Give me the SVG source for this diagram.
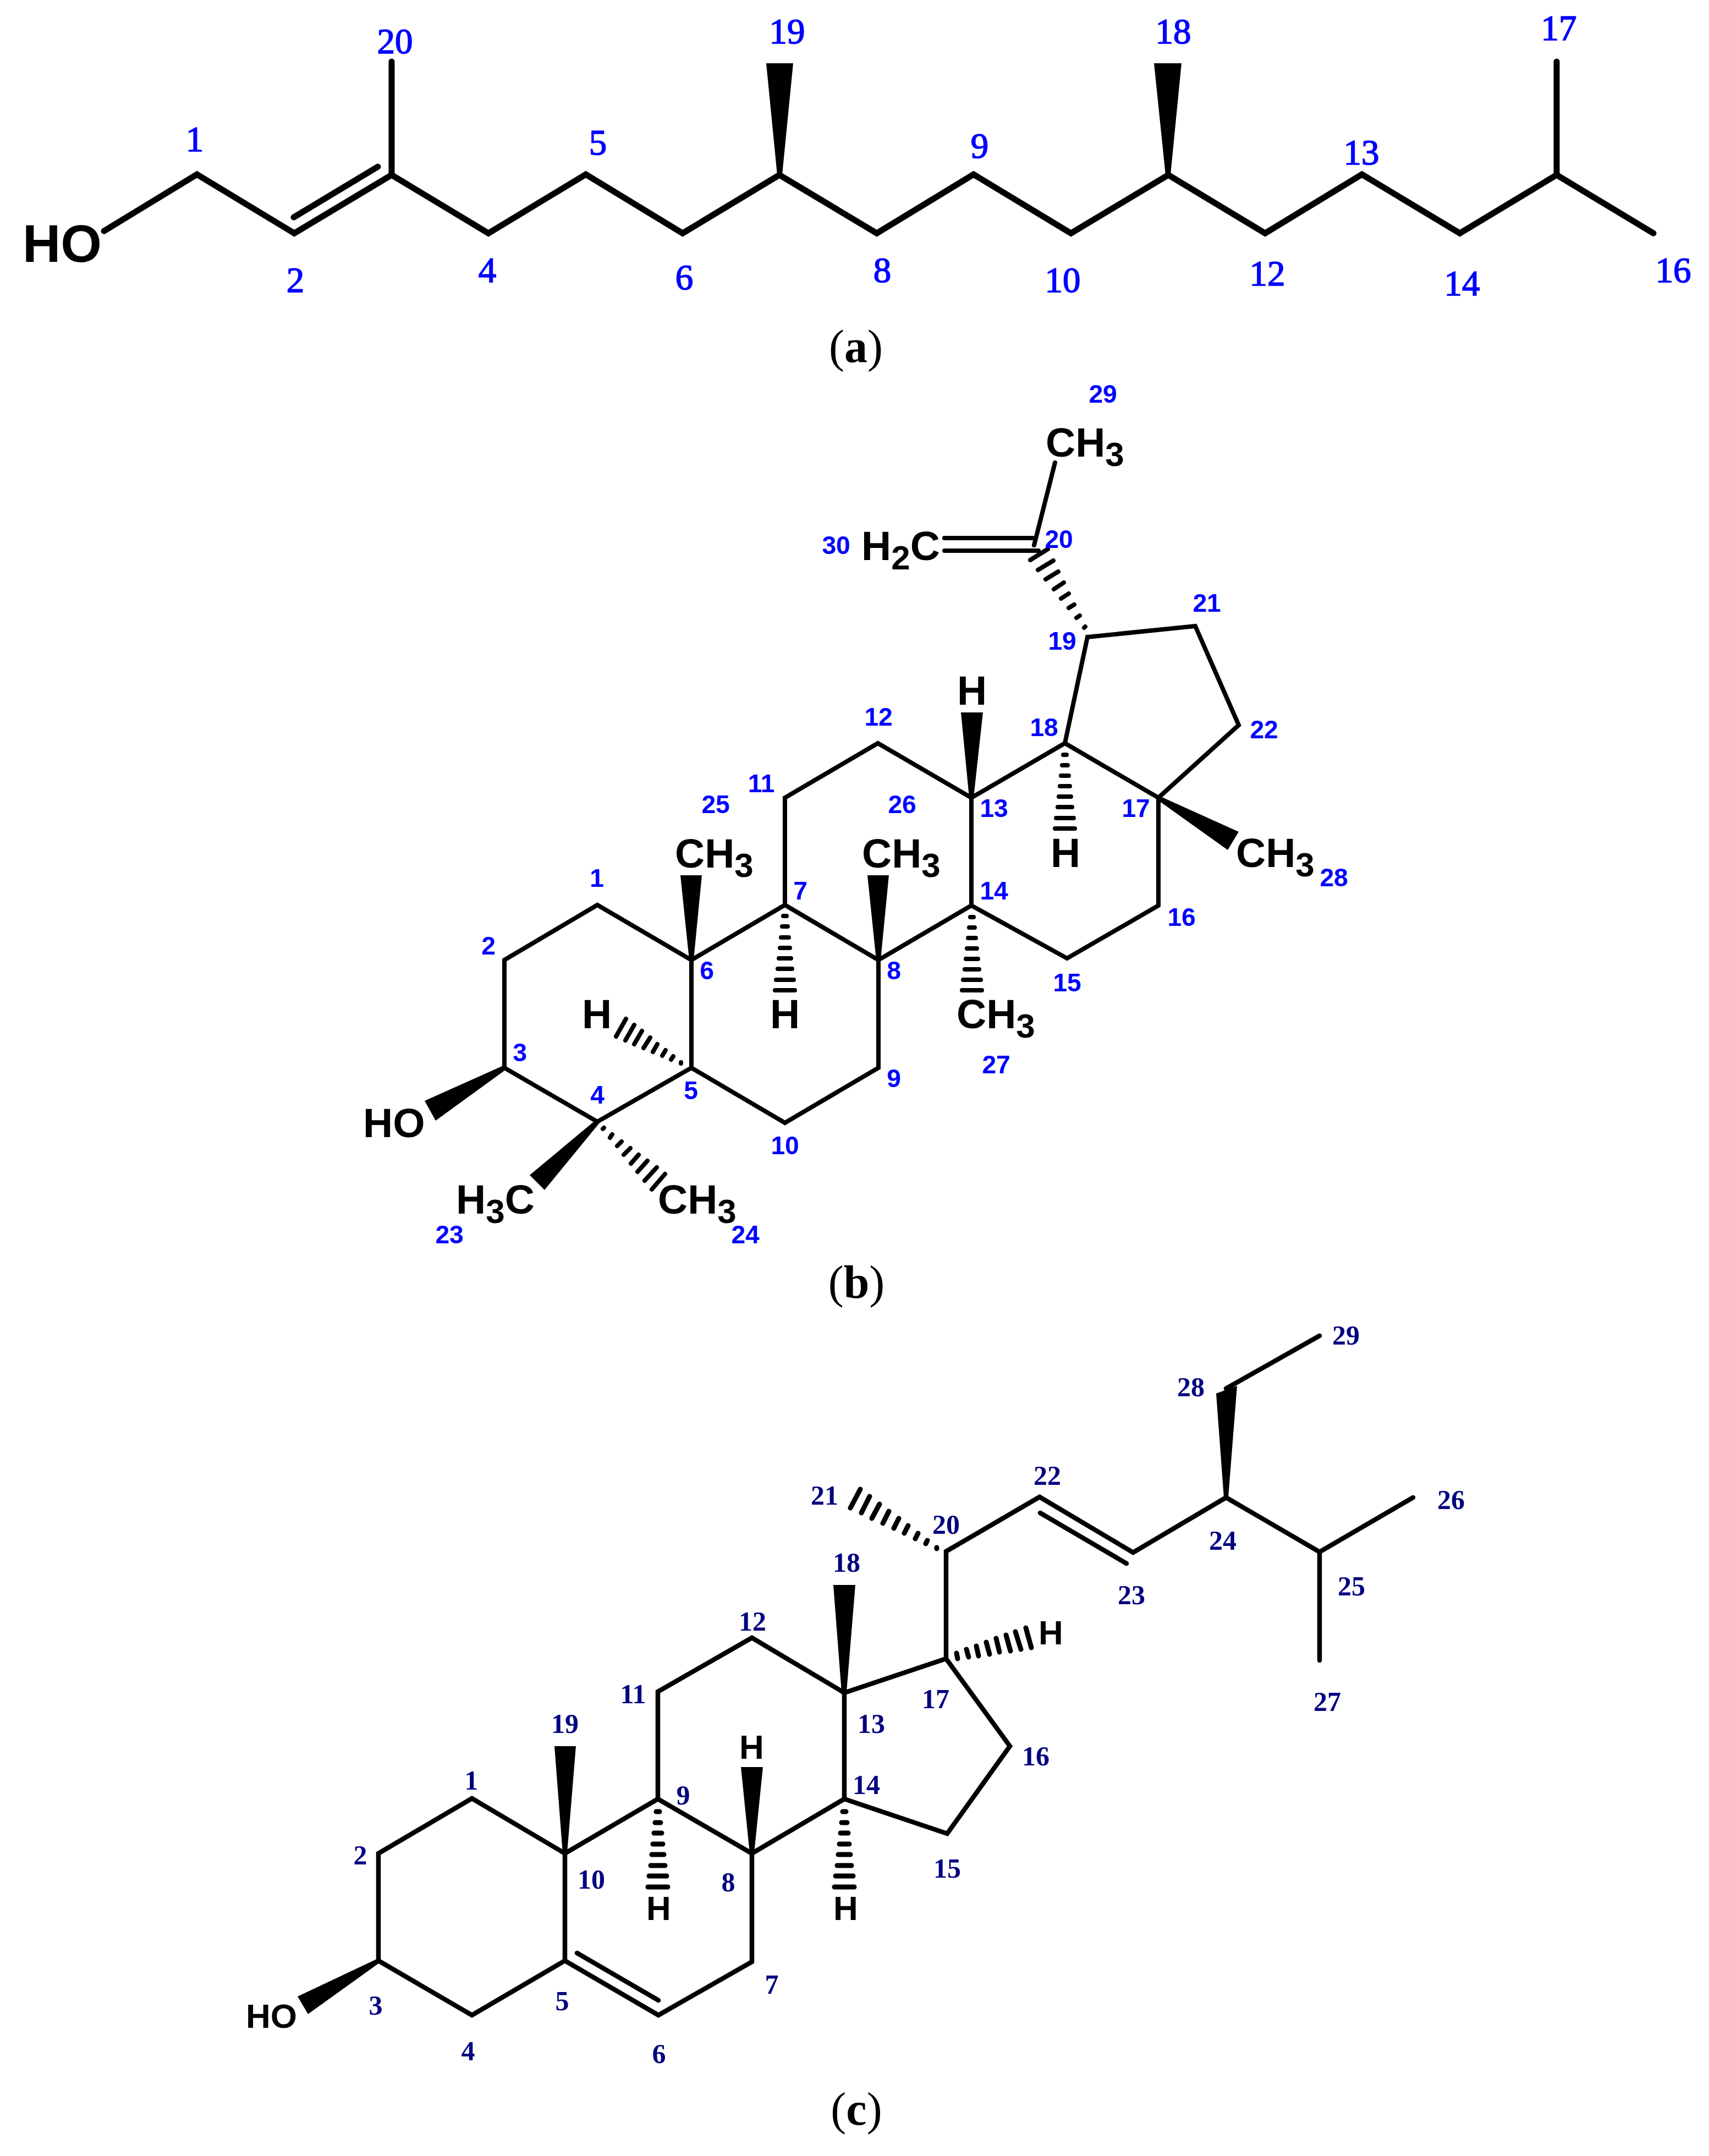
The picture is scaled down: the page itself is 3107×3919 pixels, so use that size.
<svg xmlns="http://www.w3.org/2000/svg" width="3107" height="3919" viewBox="0 0 3107 3919">
<style>
.bg{fill:#fff}
.bond{fill:none;stroke:#000;stroke-linecap:round;stroke-linejoin:miter}
.ba{stroke-width:11}
.bb{stroke-width:8}
.bc{stroke-width:8.500}
.hash{fill:none;stroke:#000;stroke-linecap:round}
.hb{stroke-width:8}
.hc{stroke-width:9}
.w{fill:#000;stroke:none}
.atom{font-family:"Liberation Sans",Arial,sans-serif;font-weight:bold;fill:#000}
.la{font-family:"Liberation Serif","Times New Roman",serif;font-size:65px;fill:#0000ff;stroke:#0000ff;stroke-width:1.600px;text-anchor:middle}
.lb{font-family:"Liberation Sans",Arial,sans-serif;font-size:46px;font-weight:bold;fill:#0000ff;text-anchor:middle}
.lc{font-family:"Liberation Serif","Times New Roman",serif;font-size:50px;font-weight:bold;fill:#000080;text-anchor:middle}
.cap{font-family:"Liberation Serif","Times New Roman",serif;font-size:84px;fill:#000;text-anchor:middle}
.cap tspan{font-weight:bold}
.a74{font-size:75px}
.a62{font-size:62px}
.s58{font-size:62px}
</style>
<rect class="bg" width="3107" height="3919"/>

<g id="molecule-a">
<g id="connectors-a">
<path class="bond ba" d="M189 420L358 317L535 424L712 318L888 424L1065 317L1241 424L1417 318L1594 424L1770 317L1947 424L2124 318L2300 424L2476 317L2654 424L2830 318L3006 424"/>
<path class="bond ba" d="M712 318V112M2830 318V112M534 395L687 303"/>
<polygon class="w" points="1393,115 1442,115 1422,318 1413,318"/>
<polygon class="w" points="2098,115 2148,115 2128,318 2119,318"/>
</g>
<text class="atom" x="41" y="476" font-size="96">HO</text>
<g id="labels-a">
<text class="la" x="354" y="275">1</text><text class="la" x="537" y="531">2</text><text class="la" x="718" y="97">20</text><text class="la" x="886" y="513">4</text><text class="la" x="1087" y="281">5</text><text class="la" x="1244" y="526">6</text><text class="la" x="1431" y="79">19</text><text class="la" x="1604" y="513">8</text><text class="la" x="1781" y="287">9</text><text class="la" x="2133" y="79">18</text><text class="la" x="1932" y="531">10</text><text class="la" x="2304" y="519">12</text><text class="la" x="2475" y="299">13</text><text class="la" x="2658" y="537">14</text><text class="la" x="2834" y="73">17</text><text class="la" x="3042" y="513">16</text>
</g>
<text class="cap" x="1556" y="658">(<tspan>a</tspan>)</text>
</g>

<g id="molecule-b">
<g id="connectors-b">
<path class="bond bb" d="M917 1745L1086 1645L1257 1745L1257 1941L1086 2039L917 1941Z"/>
<path class="bond bb" d="M1257 1745L1427 1645L1597 1745L1597 1941L1427 2041L1257 1941"/>
<path class="bond bb" d="M1427 1645V1450L1596 1351L1766 1450V1646L1597 1745"/>
<path class="bond bb" d="M1766 1646L1940 1742L2106 1646V1450L1936 1351L1766 1450"/>
<path class="bond bb" d="M2106 1450L2252 1318L2173 1138L1977 1158L1936 1351"/>
<path class="bond bb" d="M1918 841L1880 991M1717 978H1878M1717 1001H1888"/>
<polygon class="w" points="1747,1295 1787,1295 1770,1450 1762,1450"/>
<polygon class="w" points="1237,1591 1276,1591 1261,1745 1253,1745"/>
<polygon class="w" points="1577,1591 1616,1591 1601,1745 1593,1745"/>
<polygon class="w" points="2252,1512 2232,1545 2103,1453 2108,1447"/>
<polygon class="w" points="772,2001 792,2037 920,1944 915,1937"/>
<polygon class="w" points="963,2136 990,2163 1090,2041 1083,2036"/>
<path class="hash hb" d="M1933 1372h6M1931 1391h10M1929 1410h14M1927 1429h18M1925 1448h22M1923 1467h26M1920 1487h32M1918 1506h36"/>
<path class="hash hb" d="M1424 1665h6M1422 1684h10M1420 1704h14M1418 1723h18M1416 1742h22M1414 1761h26M1411 1781h32M1409 1800h36"/>
<path class="hash hb" d="M1764 1667h6M1762 1686h10M1760 1705h14M1758 1724h18M1756 1743h22M1754 1762h26M1751 1781h32M1749 1800h36"/>
<path class="hash hb" d="M1971 1141L1973 1139M1957 1123L1963 1119M1943 1105L1953 1099M1929 1088L1943 1079M1916 1071L1934 1059M1901 1053L1924 1039M1887 1036L1915 1019M1873 1018L1905 998"/>
<path class="hash hb" d="M1238 1933L1238 1931M1220 1926L1224 1920M1204 1919L1210 1909M1187 1912L1195 1898M1170 1905L1182 1886M1153 1898L1167 1874M1137 1891L1153 1863M1120 1884L1138 1852"/>
<path class="hash hb" d="M1096 2052L1098 2050M1109 2068L1113 2062M1122 2083L1130 2075M1134 2099L1146 2087M1147 2115L1161 2099M1159 2130L1177 2110M1172 2146L1194 2122M1185 2162L1209 2134"/>
</g>
<g id="atoms-b">
<text class="atom a74" x="1901" y="830">CH<tspan class="s58" dy="17">3</tspan></text>
<text class="atom a74" x="1566" y="1018">H<tspan class="s58" dy="17">2</tspan><tspan dy="-17">C</tspan></text>
<text class="atom a74" x="1740" y="1281">H</text>
<text class="atom a74" x="1910" y="1576">H</text>
<text class="atom a74" x="2247" y="1576">CH<tspan class="s58" dy="17">3</tspan></text>
<text class="atom a74" x="1227" y="1577">CH<tspan class="s58" dy="17">3</tspan></text>
<text class="atom a74" x="1567" y="1577">CH<tspan class="s58" dy="17">3</tspan></text>
<text class="atom a74" x="1400" y="1869">H</text>
<text class="atom a74" x="1739" y="1869">CH<tspan class="s58" dy="17">3</tspan></text>
<text class="atom a74" x="1058" y="1869">H</text>
<text class="atom a74" x="660" y="2067">HO</text>
<text class="atom a74" x="829" y="2206">H<tspan class="s58" dy="17">3</tspan><tspan dy="-17">C</tspan></text>
<text class="atom a74" x="1196" y="2206">CH<tspan class="s58" dy="17">3</tspan></text>
</g>
<g id="labels-b">
<text class="lb" x="2005" y="732">29</text><text class="lb" x="1520" y="1007">30</text><text class="lb" x="1925" y="996">20</text><text class="lb" x="2194" y="1112">21</text><text class="lb" x="1931" y="1181">19</text><text class="lb" x="1898" y="1338">18</text><text class="lb" x="1597" y="1319">12</text><text class="lb" x="2298" y="1342">22</text><text class="lb" x="1384" y="1440">11</text><text class="lb" x="1640" y="1478">26</text><text class="lb" x="1807" y="1485">13</text><text class="lb" x="2065" y="1485">17</text><text class="lb" x="2425" y="1611">28</text><text class="lb" x="1455" y="1635">7</text><text class="lb" x="1807" y="1635">14</text><text class="lb" x="2148" y="1683">16</text><text class="lb" x="1301" y="1478">25</text><text class="lb" x="1085" y="1612">1</text><text class="lb" x="888" y="1735">2</text><text class="lb" x="1285" y="1780">6</text><text class="lb" x="1625" y="1780">8</text><text class="lb" x="945" y="1929">3</text><text class="lb" x="1086" y="2006">4</text><text class="lb" x="1256" y="1998">5</text><text class="lb" x="1625" y="1976">9</text><text class="lb" x="1811" y="1951">27</text><text class="lb" x="1427" y="2098">10</text><text class="lb" x="817" y="2260">23</text><text class="lb" x="1355" y="2260">24</text><text class="lb" x="1940" y="1802">15</text>
</g>
<text class="cap" x="1557" y="2359">(<tspan>b</tspan>)</text>
</g>

<g id="molecule-c">
<g id="connectors-c">
<path class="bond bc" d="M688 3369L858 3269L1027 3369V3564L858 3663L688 3564Z"/>
<path class="bond bc" d="M1027 3369L1196 3270L1367 3369V3566L1197 3663L1027 3564"/>
<path class="bond bc" d="M1049 3550L1197 3636"/>
<path class="bond bc" d="M1196 3270V3075L1367 2977L1535 3077V3270L1367 3369"/>
<path class="bond bc" d="M1535 3077L1720 3015L1836 3174L1722 3333L1535 3270"/>
<path class="bond bc" d="M1720 3015V2820L1890 2721L2060 2822L2229 2722L2399 2821L2569 2722M2399 2821V3018M2229 2524L2399 2428M1891 2750L2048 2842"/>
<polygon class="w" points="1008,3174 1047,3174 1031,3369 1023,3369"/>
<polygon class="w" points="1347,3212 1387,3212 1371,3369 1363,3369"/>
<polygon class="w" points="1515,2881 1555,2881 1539,3076 1530,3076"/>
<polygon class="w" points="2211,2533 2249,2519 2233,2722 2225,2722"/>
<polygon class="w" points="541,3629 560,3661 691,3567 685,3561"/>
<path class="hash hc" d="M1193 3293h6M1191 3313h10M1189 3332h14M1187 3352h18M1185 3371h22M1183 3391h26M1180 3410h32M1178 3430h36"/>
<path class="hash hc" d="M1532 3293h6M1530 3313h10M1528 3332h14M1526 3352h18M1524 3371h22M1522 3391h26M1519 3410h32M1517 3430h36"/>
<path class="hash hc" d="M1703 2815L1703 2813M1683 2806L1686 2800M1664 2797L1669 2787M1644 2787L1651 2773M1625 2778L1634 2760M1605 2769L1616 2747M1585 2760L1599 2734M1566 2750L1581 2720M1546 2741L1564 2707"/>
<path class="hash hc" d="M1739 3005L1741 3015M1757 2998L1761 3012M1775 2992L1779 3010M1793 2985L1799 3007M1811 2978L1817 3003M1829 2972L1837 3001M1846 2966L1856 2998M1865 2959L1875 2995"/>
</g>
<g id="atoms-c">
<text class="atom a62" x="1888" y="2989">H</text>
<text class="atom a62" x="1344" y="3197">H</text>
<text class="atom a62" x="1175" y="3490">H</text>
<text class="atom a62" x="1515" y="3490">H</text>
<text class="atom a62" x="447" y="3686">HO</text>
</g>
<g id="labels-c">
<text class="lc" x="2447" y="2444">29</text><text class="lc" x="2165" y="2538">28</text><text class="lc" x="1904" y="2699">22</text><text class="lc" x="1499" y="2735">21</text><text class="lc" x="2638" y="2743">26</text><text class="lc" x="1720" y="2788">20</text><text class="lc" x="2223" y="2817">24</text><text class="lc" x="1539" y="2857">18</text><text class="lc" x="2457" y="2900">25</text><text class="lc" x="2057" y="2916">23</text><text class="lc" x="1701" y="3105">17</text><text class="lc" x="2413" y="3110">27</text><text class="lc" x="1584" y="3150">13</text><text class="lc" x="1368" y="2964">12</text><text class="lc" x="1151" y="3096">11</text><text class="lc" x="1027" y="3150">19</text><text class="lc" x="857" y="3253">1</text><text class="lc" x="1242" y="3280">9</text><text class="lc" x="1575" y="3261">14</text><text class="lc" x="655" y="3389">2</text><text class="lc" x="1075" y="3433">10</text><text class="lc" x="1324" y="3438">8</text><text class="lc" x="1722" y="3413">15</text><text class="lc" x="1883" y="3209">16</text><text class="lc" x="1403" y="3624">7</text><text class="lc" x="683" y="3662">3</text><text class="lc" x="1022" y="3654">5</text><text class="lc" x="851" y="3745">4</text><text class="lc" x="1198" y="3750">6</text>
</g>
<text class="cap" x="1557" y="3862">(<tspan>c</tspan>)</text>
</g>
</svg>
